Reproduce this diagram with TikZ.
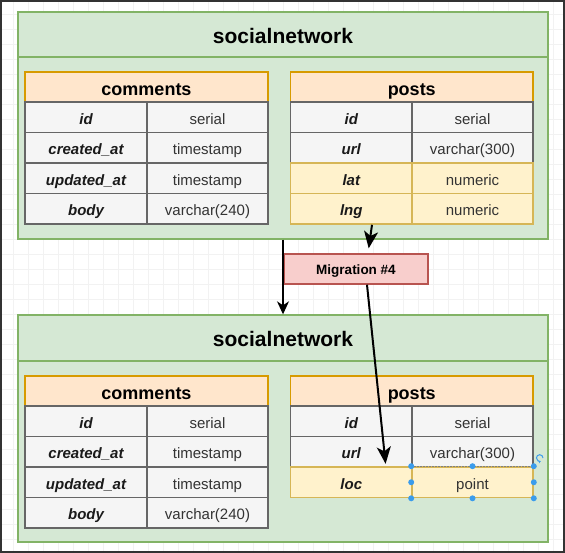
\documentclass[tikz,border=0pt]{standalone}
\usepackage{fontspec}
\setmainfont{Liberation Sans}
\usetikzlibrary{arrows.meta,calc}
\definecolor{grnfill}{HTML}{D5E8D4}
\definecolor{grnline}{HTML}{82B366}
\definecolor{hdrfill}{HTML}{FFE6CC}
\definecolor{hdrline}{HTML}{D79B00}
\definecolor{cellfill}{HTML}{F5F5F5}
\definecolor{cellline}{HTML}{666666}
\definecolor{hlfill}{HTML}{FFF2CC}
\definecolor{hlline}{HTML}{D6B656}
\definecolor{migfill}{HTML}{F8CECC}
\definecolor{migline}{HTML}{B85450}
\definecolor{selblue}{HTML}{3B9CEC}
\definecolor{gridc}{HTML}{F2F2F2}
\definecolor{framec}{HTML}{333333}
\definecolor{valtext}{HTML}{333333}
\definecolor{nametext}{HTML}{1A1A1A}
\begin{document}
\begin{tikzpicture}[x=1pt,y=-1pt,
  dbbox/.style={draw=grnline, fill=grnfill, line width=1.4pt, inner sep=0pt},
  dbtitle/.style={draw=grnline, fill=grnfill, line width=1.4pt, inner sep=0pt,
    font=\fontsize{21}{25}\selectfont\bfseries, text height=17.5pt, text depth=0pt},
  cellbase/.style={line width=1.6pt, inner sep=0pt, minimum height=30.5pt,
    text height=14pt, text depth=0pt},
  hdr/.style={cellbase, draw=hdrline, fill=hdrfill, minimum height=30pt,
    font=\fontsize{18}{22}\selectfont\bfseries, text height=16.5pt},
  namecell/.style={cellbase, draw=cellline, fill=cellfill, minimum width=122pt,
    font=\fontsize{15}{18}\selectfont\bfseries\itshape, text=nametext},
  valcell/.style={cellbase, draw=cellline, fill=cellfill, minimum width=121pt,
    font=\fontsize{15}{18}\selectfont, text=valtext},
  pname/.style={namecell, minimum width=121.5pt},
  hl/.style={draw=hlline, fill=hlfill},
  migbox/.style={draw=migline, fill=migfill, line width=1.4pt, inner sep=0pt,
    minimum width=144pt, minimum height=30pt,
    font=\fontsize{13.5}{16}\selectfont\bfseries,
    text height=12pt, text depth=0pt},
  thinarrow/.style={draw=black, line width=1.2pt, -{Stealth[length=13pt,width=12pt,inset=4pt]}},
  bigarrow/.style={draw=black, line width=2pt, -{Stealth[length=17pt,width=14pt,inset=4.5pt]}},
  seldot/.style={fill=selblue}
]
\useasboundingbox (0,0) rectangle (565,553);
\fill[white] (0,0) rectangle (565,553);
% background grid
\foreach \gx in {13.5,28.5,...,565} \draw[gridc, line width=0.8pt] (\gx,0) -- (\gx,553);
\foreach \gy in {14,29,...,553} \draw[gridc, line width=0.8pt] (0,\gy) -- (565,\gy);
\draw[framec, line width=2pt] (1,1) rectangle (564,552);

% ===== top database =====
\node[dbbox, minimum width=530pt, minimum height=227pt] (db1) at (283,125.5) {};
\node[dbtitle, minimum width=530pt, minimum height=45pt] (t1) at (283,34.5) {socialnetwork};

\node[hdr, minimum width=243pt] (c1h) at (146.5,87) {comments};
\node[namecell] (c1n1) at (86,117.25) {id};
\node[valcell]  (c1v1) at (207.5,117.25) {serial};
\node[namecell] (c1n2) at (86,147.75) {created\_at};
\node[valcell]  (c1v2) at (207.5,147.75) {timestamp};
\node[namecell] (c1n3) at (86,178.25) {updated\_at};
\node[valcell]  (c1v3) at (207.5,178.25) {timestamp};
\node[namecell] (c1n4) at (86,208.75) {body};
\node[valcell]  (c1v4) at (207.5,208.75) {varchar(240)};

\node[hdr, minimum width=242.5pt] (p1h) at (411.75,87) {posts};
\node[pname] (p1n1) at (351.25,117.25) {id};
\node[valcell] (p1v1) at (472.5,117.25) {serial};
\node[pname] (p1n2) at (351.25,147.75) {url};
\node[valcell] (p1v2) at (472.5,147.75) {varchar(300)};
\node[pname,hl] (p1n3) at (351.25,178.25) {lat};
\node[valcell,hl] (p1v3) at (472.5,178.25) {numeric};
\node[pname,hl] (p1n4) at (351.25,208.75) {lng};
\node[valcell,hl] (p1v4) at (472.5,208.75) {numeric};

% ===== migration =====
\node[migbox] (mig) at (356,269) {Migration \#4};

% ===== bottom database =====
\node[dbbox, minimum width=530pt, minimum height=227pt] (db2) at (283,428.5) {};
\node[dbtitle, minimum width=530pt, minimum height=46pt] (t2) at (283,338) {socialnetwork};

\node[hdr, minimum width=243pt] (c2h) at (146.5,391) {comments};
\node[namecell] (c2n1) at (86,421.25) {id};
\node[valcell]  (c2v1) at (207.5,421.25) {serial};
\node[namecell] (c2n2) at (86,451.75) {created\_at};
\node[valcell]  (c2v2) at (207.5,451.75) {timestamp};
\node[namecell] (c2n3) at (86,482.25) {updated\_at};
\node[valcell]  (c2v3) at (207.5,482.25) {timestamp};
\node[namecell] (c2n4) at (86,512.75) {body};
\node[valcell]  (c2v4) at (207.5,512.75) {varchar(240)};

\node[hdr, minimum width=242.5pt] (p2h) at (411.75,391) {posts};
\node[pname] (p2n1) at (351.25,421.25) {id};
\node[valcell] (p2v1) at (472.5,421.25) {serial};
\node[pname] (p2n2) at (351.25,451.75) {url};
\node[valcell] (p2v2) at (472.5,451.75) {varchar(300)};
\node[pname,hl] (p2n3) at (351.25,482.25) {loc};
\node[valcell,hl] (p2v3) at (472.5,482.25) {point};

% ===== selection handles on "point" cell =====
\draw[gray, line width=0.8pt, dash pattern=on 1.5pt off 1.5pt] (p2v3.north west) -- (p2v3.north east);
\foreach \a in {north west,north,north east,west,east,south west,south,south east}
  \fill[seldot] (p2v3.\a) circle (3pt);
\draw[selblue, line width=1pt, -{Stealth[length=2.5pt,width=3pt]}] (543,458) arc (0:290:3.3pt);

% ===== connectors =====
\draw[thinarrow] (db1.south) -- (db2.north);
\draw[bigarrow, shorten >=5pt] ([xshift=20.75pt]p1n4.south) -- ([xshift=12pt]mig.north);
\draw[bigarrow, shorten >=4pt] ([xshift=11pt]mig.south) -- ([xshift=34.75pt]p2n2.south);
\end{tikzpicture}
\end{document}
